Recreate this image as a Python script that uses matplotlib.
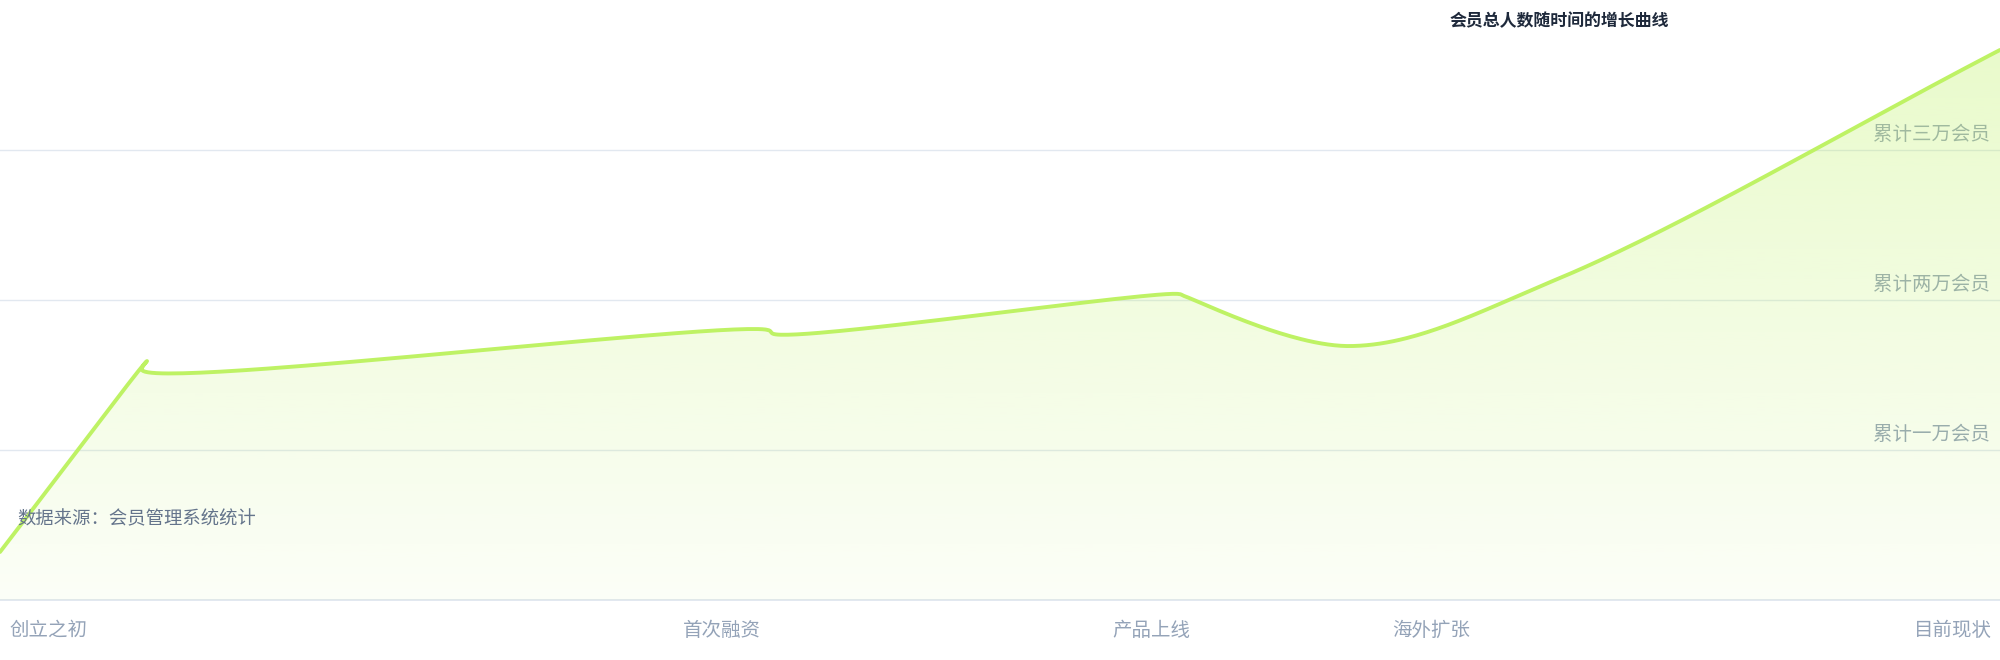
"""Member growth curve, smoothed line with gradient area."""
import matplotlib
matplotlib.use('Agg')
import matplotlib.pyplot as plt
import numpy as np
from matplotlib.patches import Polygon

plt.rcParams['font.family'] = ['Noto Sans CJK SC', 'DejaVu Sans']

# data: day since founding, total members
days = [0, 73.5, 71, 384, 387, 589.5, 592, 675, 780, 1000]
members = [3200, 15930, 15330, 18000, 17730, 20400, 20270, 16930, 21470, 36670]

grid_values = [10000, 20000, 30000]
grid_labels = ['累计一万会员', '累计两万会员', '累计三万会员']

tick_days = [0, 361, 575.5, 715.5, 1000]
tick_labels = ['创立之初', '首次融资', '产品上线', '海外扩张', '目前现状']

title = '会员总人数随时间的增长曲线'
subtitle = '数据来源：会员管理系统统计'

LINE = '#bef264'


def catmull_rom(pts, alpha=0.5, n=60):
    """centripetal catmull-rom through pts (display coords)"""
    pts = np.asarray(pts, float)
    ext = np.vstack([2 * pts[0] - pts[1], pts, 2 * pts[-1] - pts[-2]])
    out = []
    for i in range(len(pts) - 1):
        p0, p1, p2, p3 = ext[i], ext[i + 1], ext[i + 2], ext[i + 3]
        t0 = 0.0
        t1 = t0 + max(np.linalg.norm(p1 - p0), 1e-6) ** alpha
        t2 = t1 + max(np.linalg.norm(p2 - p1), 1e-6) ** alpha
        t3 = t2 + max(np.linalg.norm(p3 - p2), 1e-6) ** alpha
        t = np.linspace(t1, t2, n)[:, None]
        a1 = (t1 - t) / (t1 - t0) * p0 + (t - t0) / (t1 - t0) * p1
        a2 = (t2 - t) / (t2 - t1) * p1 + (t - t1) / (t2 - t1) * p2
        a3 = (t3 - t) / (t3 - t2) * p2 + (t - t2) / (t3 - t2) * p3
        b1 = (t2 - t) / (t2 - t0) * a1 + (t - t0) / (t2 - t0) * a2
        b2 = (t3 - t) / (t3 - t1) * a2 + (t - t1) / (t3 - t1) * a3
        c = (t2 - t) / (t2 - t1) * b1 + (t - t1) / (t2 - t1) * b2
        out.append(c if i == 0 else c[1:])
    return np.vstack(out)


fig = plt.figure(figsize=(20, 6.6), dpi=100)
ax = fig.add_axes([0, 60 / 660, 1, 600 / 660])
ax.set_xlim(0, 1000)
ax.set_ylim(0, 40000)
ax.axis('off')

# grid + baseline
for v in grid_values:
    ax.axhline(v, color='#e2e8f0', lw=1.0, zorder=0.5)
ax.axhline(0, color='#e2e8f0', lw=1.4, zorder=0.5, clip_on=False)

# value labels sit under the area fill
for v, lab in zip(grid_values, grid_labels):
    ax.annotate(lab, (0.995, v), xycoords=('axes fraction', 'data'),
                xytext=(0, 16), textcoords='offset pixels',
                ha='right', va='center', fontsize=14, color='#94a3b8', zorder=1)

# smooth curve in screen space
disp = ax.transData.transform(np.column_stack([days, members]))
curve = ax.transData.inverted().transform(catmull_rom(disp))
cx, cy = curve[:, 0], curve[:, 1]

poly = np.vstack([curve, [[cx[-1], 0], [cx[0], 0]]])
patch = Polygon(poly, closed=True, facecolor='none', edgecolor='none')
ax.add_patch(patch)
alpha = np.linspace(0.36, 0.05, 256)[:, None]
rgba = np.zeros((256, 1, 4))
rgba[..., :3] = matplotlib.colors.to_rgb(LINE)
rgba[..., 3] = alpha
img = ax.imshow(rgba, extent=[0, 1000, 0, 40000], aspect='auto',
                origin='upper', zorder=2, interpolation='bilinear')
img.set_clip_path(patch)

ax.plot(cx, cy, color=LINE, lw=2.8, solid_capstyle='round', zorder=3)

# texts
ax.text(8.5, 5400, subtitle, ha='left', va='center', fontsize=13.2,
        color='#64748b', zorder=4)
fig.text(1450 / 2000, 1 - 21.5 / 660, title, ha='left', va='center',
         fontsize=12.2, color='#1e293b', fontweight='bold')

for d, lab in zip(tick_days, tick_labels):
    ha = 'left' if d == tick_days[0] else ('right' if d == tick_days[-1] else 'center')
    xpos = d + (4.5 if ha == 'left' else (-4 if ha == 'right' else 0))
    ax.text(xpos, -30.5 / 150 * 10000, lab, ha=ha, va='center', fontsize=14,
            color='#94a3b8', clip_on=False)

fig.savefig('out.png', dpi=100)
